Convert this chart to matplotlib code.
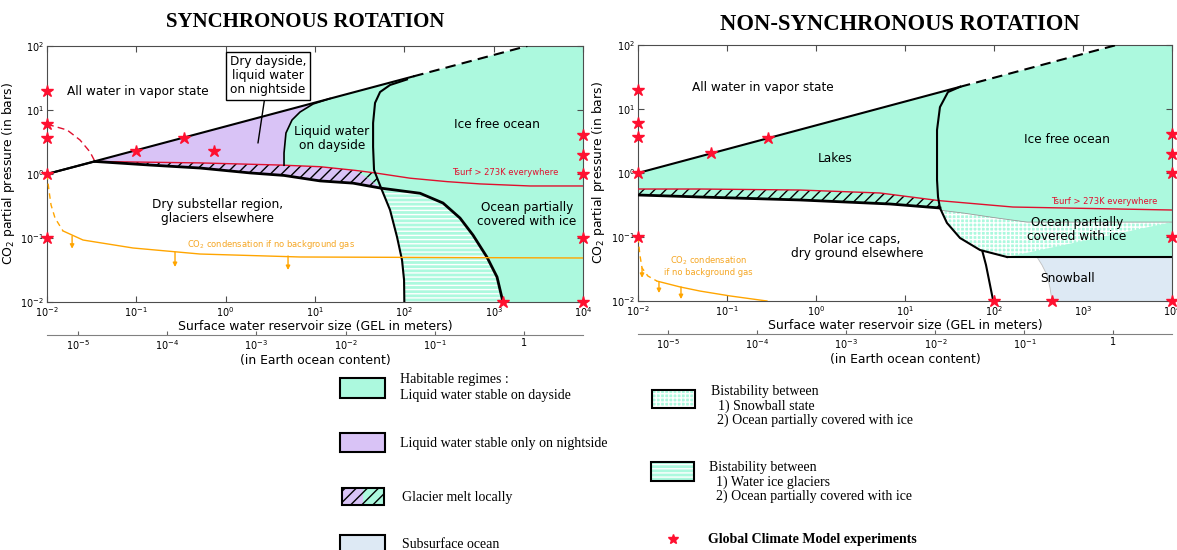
import numpy as np
import matplotlib
matplotlib.use('Agg')
import matplotlib.pyplot as plt
from matplotlib.patches import Polygon, Rectangle
from matplotlib.ticker import NullLocator, FixedLocator, FixedFormatter

plt.rcParams['hatch.linewidth'] = 1.0

GREEN = '#acf9de'
PURPLE = '#d9c3f6'
SNOW = '#dde9f4'
RED = '#e0102e'
ORANGE = '#ffa500'
ORANGE_TXT = '#f5a623'

# ---------------- data (GEL in m, pressure in bar) ----------------
EARTH_OCEAN_GEL = 2200.0

# vapour limit (upper black line), solid then dashed
sync_vap_gel = [0.01, 126.0, 2380.0]
sync_vap_p = [1.0, 33.5, 100.0]
ns_vap_gel = [0.01, 41.5, 2380.0]
ns_vap_p = [1.0, 22.2, 100.0]

# synchronous rotation
s_kink = (0.0344, 1.57)
s_low_gel = [0.0344, 0.142, 0.516, 1.87, 4.5, 6.8, 11.4, 26.6, 55.0, 150, 271, 420, 587, 843, 1090, 1270]
s_low_p = [1.57, 1.38, 1.24, 1.04, 0.95, 0.87, 0.78, 0.72, 0.60, 0.50, 0.352, 0.205, 0.111, 0.050, 0.0246, 0.01]
s_red_gel = [0.0344, 0.516, 4.06, 11.4, 28.1, 47.0, 116, 301, 703, 2550, 1e4]
s_red_p = [1.57, 1.49, 1.38, 1.30, 1.14, 1.04, 0.86, 0.76, 0.70, 0.65, 0.65]
s_day_gel = [4.5, 4.5, 4.73, 5.53, 6.8, 9.5, 14.7]
s_day_p = [1.37, 2.13, 4.37, 6.98, 9.3, 12.4, 15.1]
s_ice_gel = [107, 69.2, 53.5, 47.0, 44.7, 44.7, 45.8, 55.0, 69.2, 82.8, 94.2, 99.3, 100]
s_ice_p = [30.0, 24.6, 19.1, 12.9, 6.27, 2.64, 1.155, 0.60, 0.274, 0.104, 0.0453, 0.0221, 0.01]
s_split_gel = [28.1, 39.3, 55.0]
s_split_p = [1.14, 0.866, 0.60]
s_evap_gel = [0.01, 0.0168, 0.0234, 0.0303, 0.0344]
s_evap_p = [6.0, 4.87, 3.40, 2.21, 1.57]
s_co2_dash_gel = [0.01, 0.0105, 0.0111, 0.0123, 0.0151]
s_co2_dash_p = [1.0, 0.562, 0.328, 0.205, 0.129]
s_co2_gel = [0.0151, 0.0253, 0.0918, 0.516, 6.8, 1e4]
s_co2_p = [0.129, 0.093, 0.0698, 0.0562, 0.0505, 0.0487]
s_arrow_gel = [0.0191, 0.271, 4.99]
s_arrow_p0 = [0.107, 0.0603, 0.0523]
s_arrow_p1 = [0.068, 0.0352, 0.0316]
s_star_gel = [0.01, 0.01, 0.01, 0.01, 0.01, 1e4, 1e4, 1e4, 1e4, 1e4, 0.1, 0.34, 0.74, 1270]
s_star_p = [20, 6.0, 3.7, 1.0, 0.1, 4.0, 2.0, 1.0, 0.1, 0.01, 2.3, 3.7, 2.3, 0.01]

# non-synchronous rotation
ns_red_gel = [0.01, 0.0498, 0.661, 5.24, 24.2, 163, 1e4]
ns_red_p = [0.562, 0.562, 0.542, 0.487, 0.37, 0.294, 0.264]
ns_low_gel = [0.01, 0.0498, 0.661, 6.78, 24.7]
ns_low_p = [0.453, 0.422, 0.379, 0.328, 0.284]
ns_ice_gel = [41.5, 30.4, 24.7, 22.9, 22.9, 22.9, 23.5, 24.7, 29.6, 41.5, 69.7, 140]
ns_ice_p = [22.2, 18.4, 10.7, 4.70, 1.60, 0.778, 0.422, 0.284, 0.166, 0.0965, 0.0626, 0.0487]
ns_floor_gel = [140, 1e4]
ns_floor_p = [0.0487, 0.0487]
ns_glac_gel = [74.0, 81.3, 87.9, 98.0]
ns_glac_p = [0.060, 0.0365, 0.0213, 0.01]
ns_bis_gel = [26.0, 44.9, 108, 235, 1e4]
ns_bis_p = [0.26, 0.237, 0.198, 0.171, 0.171]
ns_snow_gel = [304, 346, 394, 426, 449]
ns_snow_p = [0.0487, 0.0365, 0.0255, 0.016, 0.01]
ns_co2_dash_gel = [0.01, 0.0105, 0.0111, 0.0129, 0.0163]
ns_co2_dash_p = [0.1, 0.0523, 0.0328, 0.0246, 0.0205]
ns_co2_gel = [0.0163, 0.0296, 0.0498, 0.108, 0.281]
ns_co2_p = [0.0205, 0.0166, 0.0143, 0.012, 0.01]
ns_arrow_gel = [0.0111, 0.0172, 0.0304]
ns_arrow_p0 = [0.0328, 0.0199, 0.0166]
ns_arrow_p1 = [0.023, 0.0133, 0.0107]
ns_star_gel = [0.01, 0.01, 0.01, 0.01, 0.01, 1e4, 1e4, 1e4, 1e4, 1e4, 0.066, 0.29, 100, 450]
ns_star_p = [20, 6.0, 3.7, 1.0, 0.1, 4.0, 2.0, 1.0, 0.1, 0.01, 2.05, 3.5, 0.01, 0.01]


def pts(g, p, rev=False):
    a = np.column_stack([g, p]).astype(float)
    return a[::-1] if rev else a


def poly(*parts):
    return np.vstack([np.atleast_2d(np.asarray(q, float)) for q in parts])


def add_poly(ax, xy, **kw):
    ax.add_patch(Polygon(xy, closed=True, **kw))


def vapor_line(ax, g, p):
    ax.plot(g[:2], p[:2], color='k', lw=1.5, zorder=6)
    ax.plot(g[1:], p[1:], color='k', lw=1.5, ls=(0, (5, 3)), zorder=6)


def setup(ax, ylab_x):
    ax.set_xscale('log')
    ax.set_yscale('log')
    ax.set_xlim(1e-2, 1e4)
    ax.set_ylim(1e-2, 1e2)
    ax.xaxis.set_minor_locator(NullLocator())
    ax.yaxis.set_minor_locator(NullLocator())
    ax.tick_params(direction='in', top=True, right=True, labelsize=7, length=4, color='0.3', pad=2)
    for s in ax.spines.values():
        s.set_color('0.3')
    ax.set_xlabel('Surface water reservoir size (GEL in meters)', fontsize=8.9, labelpad=1)
    ax.set_ylabel('CO$_2$ partial pressure (in bars)', fontsize=8.9)
    ax.yaxis.set_label_coords(ylab_x, 0.5)
    sec = ax.secondary_xaxis(-0.129, functions=(lambda x: x / EARTH_OCEAN_GEL, lambda x: x * EARTH_OCEAN_GEL))
    sec.xaxis.set_major_locator(FixedLocator([1e-5, 1e-4, 1e-3, 1e-2, 1e-1, 1]))
    sec.xaxis.set_major_formatter(FixedFormatter(['10$^{-5}$', '10$^{-4}$', '10$^{-3}$', '10$^{-2}$', '10$^{-1}$', '1']))
    sec.xaxis.set_minor_locator(NullLocator())
    sec.tick_params(direction='in', labelsize=7, length=3, color='0.4', pad=2)
    sec.spines['bottom'].set_color('0.5')
    sec.set_xlabel('(in Earth ocean content)', fontsize=8.9, labelpad=2)


def orange(ax, dg, dp, g, p, ag, a0, a1):
    ax.plot(dg, dp, color=ORANGE, lw=1, ls=(0, (4, 3)), zorder=7)
    ax.plot(g, p, color=ORANGE, lw=1, zorder=7)
    for x, y0, y1 in zip(ag, a0, a1):
        ax.annotate('', xy=(x, y1), xytext=(x, y0),
                    arrowprops=dict(arrowstyle='-|>', color=ORANGE, lw=1, mutation_scale=6,
                                    shrinkA=0, shrinkB=0), zorder=7)


def stars(ax, g, p):
    ax.plot(g, p, ls='none', marker='*', ms=9, color='#ff1030', mec='#ff1030',
            clip_on=False, zorder=10)


fig = plt.figure(figsize=(11.77, 5.5), dpi=100)
ov = fig.add_axes([0, 0, 1, 1])
ov.set_xlim(0, 1177)
ov.set_ylim(550, 0)
ov.axis('off')

lab = dict(fontsize=8.7, ha='center', va='center', zorder=9, linespacing=1.1)
small = dict(fontsize=6, ha='center', va='center', zorder=9)

# ---------------- synchronous ----------------
ax1 = fig.add_axes([47 / 1177, 1 - 302 / 550, 536 / 1177, 256 / 550])
setup(ax1, -0.056)
top_right = [(2380, 100), (1e4, 100), (1e4, 0.01)]
low = pts(s_low_gel, s_low_p)
add_poly(ax1, poly(s_kink, (14.7, 15.1), pts(s_day_gel, s_day_p, True),
                   pts(s_red_gel[1:3], s_red_p[1:3], True)), fc=PURPLE, lw=0, zorder=1)
add_poly(ax1, poly(pts(s_day_gel, s_day_p), top_right, low[low[:, 0] >= 4.5][::-1]),
         fc=GREEN, lw=0, zorder=1)
ice = pts(s_ice_gel, s_ice_p)
add_poly(ax1, poly(ice[7:], low[low[:, 0] >= 55][::-1]), fc=GREEN, ec='white', hatch='----', lw=0, zorder=2)
add_poly(ax1, poly(pts(s_red_gel[:5], s_red_p[:5]), pts(s_split_gel[1:], s_split_p[1:]),
                   low[low[:, 0] < 55][::-1]), fc=PURPLE, ec='k', hatch='///', lw=0, zorder=2)
add_poly(ax1, poly(pts(s_red_gel[4:6], s_red_p[4:6]), ice[6:8], pts(s_split_gel, s_split_p, True)),
         fc=GREEN, ec='k', hatch='///', lw=0, zorder=2)
vapor_line(ax1, sync_vap_gel, sync_vap_p)
ax1.plot(s_low_gel, s_low_p, color='k', lw=2, zorder=6)
ax1.plot([0.01, s_kink[0]], [1.0, s_kink[1]], color='k', lw=1.5, zorder=6)
ax1.plot(s_red_gel, s_red_p, color=RED, lw=1, zorder=5)
ax1.plot(s_evap_gel, s_evap_p, color=RED, lw=1, ls=(0, (5, 3)), zorder=5)
ax1.plot(s_day_gel, s_day_p, color='k', lw=1.2, zorder=6)
ax1.plot(s_ice_gel, s_ice_p, color='k', lw=1.5, zorder=6)
orange(ax1, s_co2_dash_gel, s_co2_dash_p, s_co2_gel, s_co2_p, s_arrow_gel, s_arrow_p0, s_arrow_p1)
stars(ax1, s_star_gel, s_star_p)

ax1.text(0.104, 19.8, 'All water in vapor state', **lab)
ax1.annotate('Dry dayside,\nliquid water\non nightside', xy=(2.3, 3.05), xytext=(2.98, 34),
             bbox=dict(boxstyle='square,pad=0.3', fc='white', ec='k', lw=1),
             arrowprops=dict(arrowstyle='-', color='k', lw=1, shrinkA=0, shrinkB=0), **lab)
ax1.text(15.5, 3.65, 'Liquid water\non dayside', **lab)
ax1.text(1090, 6.04, 'Ice free ocean', **lab)
ax1.text(0.8, 0.255, 'Dry substellar region,\nglaciers elsewhere', **lab)
ax1.text(2360, 0.229, 'Ocean partially\ncovered with ice', **lab)
ax1.text(1340, 1.04, 'Tsurf > 273K everywhere', color=RED, **small)
ax1.text(0.369, 0.0778, 'CO$_2$ condensation if no background gas', fontsize=6, color=ORANGE_TXT,
         ha='left', va='center', zorder=9)

# ---------------- non-synchronous ----------------
ax2 = fig.add_axes([638 / 1177, 1 - 301 / 550, 534 / 1177, 256 / 550])
setup(ax2, -0.058)
nice = pts(ns_ice_gel, ns_ice_p)
nlow = pts(ns_low_gel, ns_low_p)
add_poly(ax2, poly((0.01, 1.0), (2380, 100), (1e4, 100), (1e4, 0.0487), nice[::-1], nlow[::-1]),
         fc=GREEN, lw=0, zorder=1)
add_poly(ax2, poly(pts(ns_red_gel[:5], ns_red_p[:5]), nlow[::-1]), fc=GREEN, ec='k', hatch='///', lw=0, zorder=2)
bis_top = pts(ns_bis_gel, ns_bis_p)
add_poly(ax2, poly(bis_top[::-1], nice[8:]), fc=GREEN, ec='white', hatch='++++', lw=0, zorder=2)
add_poly(ax2, poly((1e4, 0.0487), (1e4, 0.01), pts(ns_snow_gel, ns_snow_p, True)), fc=SNOW, lw=0, zorder=2)
vapor_line(ax2, ns_vap_gel, ns_vap_p)
ax2.plot(ns_low_gel, ns_low_p, color='k', lw=2, zorder=6)
ax2.plot(ns_red_gel, ns_red_p, color=RED, lw=1, zorder=5)
ax2.plot(ns_bis_gel, ns_bis_p, color='0.6', lw=0.6, zorder=5)
ax2.plot(ns_snow_gel, ns_snow_p, color='0.75', lw=0.6, zorder=5)
ax2.plot(ns_ice_gel, ns_ice_p, color='k', lw=1.5, zorder=6)
ax2.plot(ns_floor_gel, ns_floor_p, color='k', lw=1.5, zorder=6)
ax2.plot(ns_glac_gel, ns_glac_p, color='k', lw=1.5, zorder=6)
orange(ax2, ns_co2_dash_gel, ns_co2_dash_p, ns_co2_gel, ns_co2_p, ns_arrow_gel, ns_arrow_p0, ns_arrow_p1)
stars(ax2, ns_star_gel, ns_star_p)

ax2.text(0.254, 21.3, 'All water in vapor state', **lab)
ax2.text(1.63, 1.71, 'Lakes', **lab)
ax2.text(661, 3.28, 'Ice free ocean', **lab)
ax2.text(2.89, 0.0698, 'Polar ice caps,\ndry ground elsewhere', **lab)
ax2.text(857, 0.133, 'Ocean partially\ncovered with ice', **lab)
ax2.text(678, 0.0221, 'Snowball', **lab)
ax2.text(1720, 0.365, 'Tsurf > 273K everywhere', color=RED, **small)
ax2.text(0.0612, 0.0352, 'CO$_2$ condensation\nif no background gas', color=ORANGE_TXT,
         linespacing=1.2, **small)

# ---------------- titles & legend ----------------
serif = ['Liberation Serif', 'DejaVu Serif']
ov.text(305, 22, 'SYNCHRONOUS ROTATION', family=serif, fontweight='bold', fontsize=15, ha='center', va='center')
ov.text(900, 25, 'NON-SYNCHRONOUS ROTATION', family=serif, fontweight='bold', fontsize=16.3, ha='center', va='center')

leg = dict(family=serif, fontsize=10, ha='left', va='center')
ov.add_patch(Rectangle((340, 378), 45, 20, fc=GREEN, ec='k', lw=1.5))
ov.text(400, 380, 'Habitable regimes :', **leg)
ov.text(400, 396, 'Liquid water stable on dayside', **leg)
ov.add_patch(Rectangle((340, 433), 45, 19, fc=PURPLE, ec='k', lw=1.5))
ov.text(400, 444, 'Liquid water stable only on nightside', **leg)
ov.add_patch(Rectangle((342, 488), 21, 17, fc=PURPLE, ec='k', hatch='///', lw=0))
ov.add_patch(Rectangle((363, 488), 21, 17, fc=GREEN, ec='k', hatch='///', lw=0))
ov.add_patch(Rectangle((342, 488), 42, 17, fc='none', ec='k', lw=1.5))
ov.text(402, 498, 'Glacier melt locally', **leg)
ov.add_patch(Rectangle((340, 535), 45, 20, fc=SNOW, ec='k', lw=1.5))
ov.text(402, 545, 'Subsurface ocean', **leg)

ov.add_patch(Rectangle((652, 390), 43, 18, fc=GREEN, ec='white', hatch='++++', lw=0))
ov.add_patch(Rectangle((652, 390), 43, 18, fc='none', ec='k', lw=1.5))
ov.text(711, 391, 'Bistability between', **leg)
ov.text(718, 406, '1) Snowball state', **leg)
ov.text(717, 420, '2) Ocean partially covered with ice', **leg)
ov.add_patch(Rectangle((651, 462), 43, 19, fc=GREEN, ec='white', hatch='----', lw=0))
ov.add_patch(Rectangle((651, 462), 43, 19, fc='none', ec='k', lw=1.5))
ov.text(709, 467, 'Bistability between', **leg)
ov.text(716, 482, '1) Water ice glaciers', **leg)
ov.text(716, 496, '2) Ocean partially covered with ice', **leg)
ov.plot([673], [539], ls='none', marker='*', ms=7, color='#ff1030')
ov.text(708, 539, 'Global Climate Model experiments', fontweight='bold', **leg)

fig.savefig('out.png', dpi=100)
